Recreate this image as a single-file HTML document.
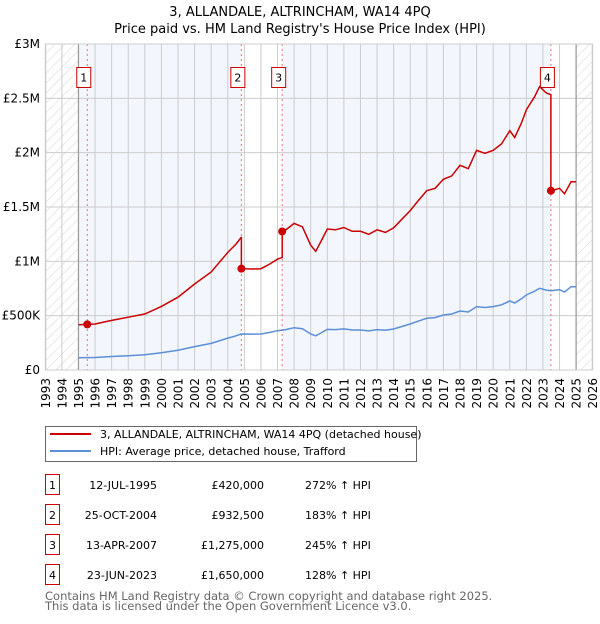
<!DOCTYPE html>
<html><head><meta charset="utf-8"><style>
body{margin:0;background:#fff;font-family:"DejaVu Sans","Liberation Sans",sans-serif;}
svg text{font-family:"DejaVu Sans","Liberation Sans",sans-serif;}
</style></head><body>
<svg id="c" width="600" height="620" xmlns="http://www.w3.org/2000/svg">
<defs><pattern id="hatch" width="7" height="7" patternUnits="userSpaceOnUse" patternTransform="rotate(45)"><line x1="0" y1="0" x2="0" y2="7" stroke="#d4d4d4" stroke-width="1"/></pattern></defs>
<text x="300" y="16" text-anchor="middle" font-size="13">3, ALLANDALE, ALTRINCHAM, WA14 4PQ</text>
<text x="300" y="33" text-anchor="middle" font-size="13">Price paid vs. HM Land Registry's House Price Index (HPI)</text>
<g id="plot"></g>
<g>
<rect x="45.5" y="426.5" width="371" height="35" fill="#fff" stroke="#666"/>
<line x1="50" y1="434" x2="91" y2="434" stroke="#cc0000" stroke-width="2"/>
<text x="100" y="438" font-size="11">3, ALLANDALE, ALTRINCHAM, WA14 4PQ (detached house)</text>
<line x1="50" y1="451" x2="91" y2="451" stroke="#5b8fd6" stroke-width="2"/>
<text x="100" y="455" font-size="11">HPI: Average price, detached house, Trafford</text>
</g>
<g id="table"></g>
<text x="45" y="600" font-size="11.5" fill="#666">Contains HM Land Registry data © Crown copyright and database right 2025.</text>
<text x="45" y="610" font-size="11.5" fill="#666">This data is licensed under the Open Government Licence v3.0.</text>
</svg>
<script>
const hpiYears=[1995,1996,1997,1998,1999,2000,2001,2002,2003,2004,2004.5,2004.8,2005.5,2006,2006.5,2007,2007.5,2008,2008.5,2009,2009.3,2009.6,2010,2010.5,2011,2011.5,2012,2012.5,2013,2013.5,2014,2014.5,2015,2015.5,2016,2016.5,2017,2017.5,2018,2018.5,2019,2019.5,2020,2020.5,2021,2021.3,2021.7,2022,2022.5,2022.8,2023.2,2023.5,2024,2024.3,2024.7,2025];
const hpiValues=[113000,115000,124000,132000,140000,159000,182000,215000,245000,294000,315000,331000,330000,331000,345000,362000,372000,389000,380000,331000,315000,340000,374000,372000,378000,368000,368000,360000,372000,365000,377000,400000,423000,450000,476000,482000,506000,515000,543000,534000,583000,575000,583000,600000,635000,617000,655000,690000,725000,752000,735000,730000,740000,718000,767000,767000];
const saleDates=[1995.53,2004.82,2007.28,2023.48];
const salePrices=[420000,932500,1275000,1650000];
const saleLabels=["12-JUL-1995","25-OCT-2004","13-APR-2007","23-JUN-2023"];
const salePriceText=["£420,000","£932,500","£1,275,000","£1,650,000"];
const saleHpiText=["272% ↑ HPI","183% ↑ HPI","245% ↑ HPI","128% ↑ HPI"];
const yTicks=[0,500000,1000000,1500000,2000000,2500000,3000000];
const yTickLabels=["£0","£500K","£1M","£1.5M","£2M","£2.5M","£3M"];

const NS="http://www.w3.org/2000/svg";
const X0=45.3,X1=592.7,Y0=370,Y1=44;
const x=t=>X0+(t-1993)/(2026-1993)*(X1-X0);
const y=v=>Y0-v/3000000*(Y0-Y1);
function mk(tag,attrs,parent){const e=document.createElementNS(NS,tag);for(const k in attrs)e.setAttribute(k,attrs[k]);parent.appendChild(e);return e;}
function hpiAt(t){for(let i=0;i<hpiYears.length-1;i++){if(t<=hpiYears[i+1]){const f=(t-hpiYears[i])/(hpiYears[i+1]-hpiYears[i]);return hpiValues[i]+f*(hpiValues[i+1]-hpiValues[i]);}}return hpiValues[hpiValues.length-1];}
const plot=document.getElementById('plot');
let r=mk('rect',{x:X0,y:Y1,width:x(1995)-X0,height:Y0-Y1,fill:'url(#hatch)'},plot);

r=mk('rect',{x:x(2025),y:Y1,width:X1-x(2025),height:Y0-Y1,fill:'url(#hatch)'},plot);

const bandEdges=[1995,saleDates[0],saleDates[1],saleDates[2],saleDates[3],2025];
const bandFill=['#f3f6fd','#f3f6fd',null,'#f3f6fd',null];
for(let i=0;i<5;i++){if(!bandFill[i])continue;r=mk('rect',{x:x(bandEdges[i]),y:Y1,width:x(bandEdges[i+1])-x(bandEdges[i]),height:Y0-Y1,fill:bandFill[i]},plot);
}
for(let yr=1993;yr<=2026;yr++){let l=mk('line',{x1:x(yr),x2:x(yr),y1:Y1,y2:Y0,stroke:'#ccc','stroke-width':1},plot);

let t=mk('text',{x:0,y:0,transform:`translate(${x(yr)+4.5},378) rotate(-90)`,'text-anchor':'end','font-size':12},plot);t.textContent=String(yr);
}
yTicks.forEach((v,i)=>{let l=mk('line',{x1:X0,x2:X1,y1:y(v),y2:y(v),stroke:'#ccc','stroke-width':1},plot);

let t=mk('text',{x:40,y:y(v)+4,'text-anchor':'end','font-size':12},plot);t.textContent=yTickLabels[i];
});
[1995,2025].forEach(yr=>{let l=mk('line',{x1:x(yr),x2:x(yr),y1:Y1,y2:Y0,stroke:'#999','stroke-width':1.2},plot);
});
saleDates.forEach(d=>{let l=mk('line',{x1:x(d),x2:x(d),y1:Y1,y2:Y0,stroke:'#f07070','stroke-width':1,'stroke-dasharray':'2,3'},plot);
});
let pts=hpiYears.map((t,i)=>x(t).toFixed(1)+','+y(hpiValues[i]).toFixed(1)).join(' ');
let hl=mk('polyline',{points:pts,fill:'none',stroke:'#5b8fd6','stroke-width':1.5},plot);

const ts=[...new Set([...hpiYears,...saleDates])].sort((a,b)=>a-b);
let rp=[];
ts.forEach(t=>{let k=-1;for(let i=0;i<saleDates.length;i++)if(saleDates[i]<=t)k=i;
 if(k>0&&Math.abs(t-saleDates[k])<1e-9){const fp=salePrices[k-1]/hpiAt(saleDates[k-1]);rp.push([t,fp*hpiAt(t)]);}
 const kk=Math.max(k,0);const f=salePrices[kk]/hpiAt(saleDates[kk]);rp.push([t,f*hpiAt(t)]);});
let pl=mk('polyline',{points:rp.map(p=>x(p[0]).toFixed(1)+','+y(p[1]).toFixed(1)).join(' '),fill:'none',stroke:'#cc0000','stroke-width':1.5},plot);

saleDates.forEach((d,i)=>{let c=mk('circle',{cx:x(d),cy:y(salePrices[i]),r:4,fill:'#cc0000'},plot);

let g=mk('g',{},plot);
mk('rect',{x:x(d)-10.5,y:67.5,width:14,height:20,fill:'#fff',stroke:'#cc0000'},g);
let t=mk('text',{x:x(d)-3.5,y:81.5,'text-anchor':'middle','font-size':11},g);t.textContent=String(i+1);});
mk('rect',{x:X0+0.5,y:Y1,width:X1-X0-1,height:Y0-Y1,fill:'none',stroke:'#ccc'},plot);
const tb=document.getElementById('table');
saleDates.forEach((d,i)=>{const yy=485+i*30;
let g=mk('g',{},tb);
mk('rect',{x:45.5,y:yy-10.5,width:14,height:20,fill:'#fff',stroke:'#cc0000'},g);
let t=mk('text',{x:52.5,y:yy+4,'text-anchor':'middle','font-size':11},g);t.textContent=String(i+1);
t=mk('text',{x:157,y:yy+4,'text-anchor':'end','font-size':11},g);t.textContent=saleLabels[i];
t=mk('text',{x:264,y:yy+4,'text-anchor':'end','font-size':11},g);t.textContent=salePriceText[i];
t=mk('text',{x:305,y:yy+4,'font-size':11},g);t.textContent=saleHpiText[i];});
</script>
</body></html>
